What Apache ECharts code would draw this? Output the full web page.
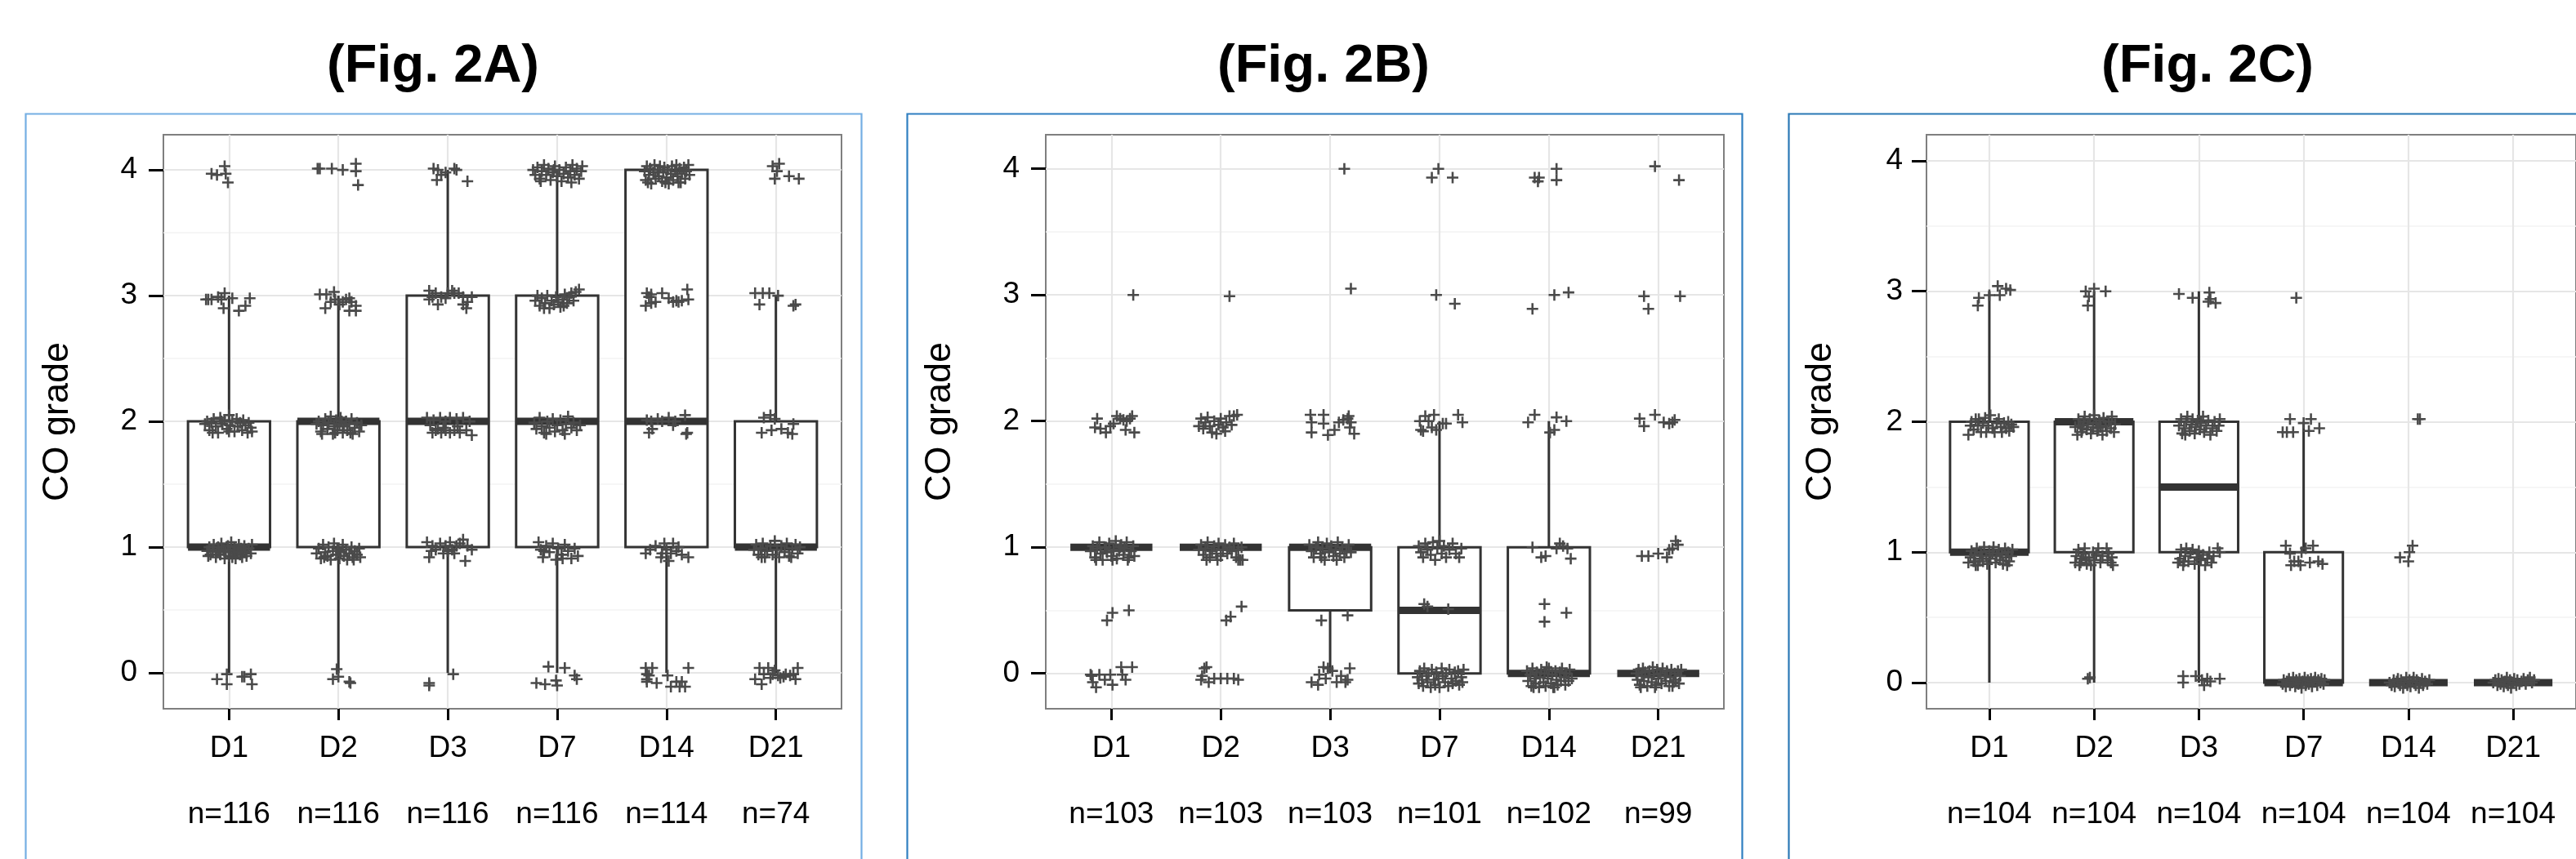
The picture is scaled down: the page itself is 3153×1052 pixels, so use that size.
<!DOCTYPE html>
<html><head><meta charset="utf-8">
<script src="https://cdn.jsdelivr.net/npm/echarts@6/dist/echarts.min.js"></script>
<style>html,body{margin:0;padding:0;background:#fff}#c{width:3153px;height:1052px}</style>
</head><body><div id="c"></div>
<script>
// ---------------- DATA ----------------
const categories = ['D1', 'D2', 'D3', 'D7', 'D14', 'D21'];
const yTicks = [0, 1, 2, 3, 4];
const yMinorTicks = [0.5, 1.5, 2.5, 3.5];
const titles = ['(Fig. 2A)', '(Fig. 2B)', '(Fig. 2C)'];
const yName = 'CO grade';
const nA = [116, 116, 116, 116, 114, 74];
const nB = [103, 103, 103, 101, 102, 99];
const nC = [104, 104, 104, 104, 104, 104];
// box stats: [category index, lower whisker, Q1, median, Q3, upper whisker]
const boxA = [[0,0,1,1,2,3],[1,0,1,2,2,3],[2,0,1,2,3,4],[3,0,1,2,3,4],[4,0,1,2,4,4],[5,0,1,1,2,3]];
const boxB = [[0,1,1,1,1,1],[1,1,1,1,1,1],[2,0,0.5,1,1,1],[3,0,0,0.5,1,2],[4,0,0,0,1,2],[5,0,0,0,0,0]];
const boxC = [[0,0,1,1,2,3],[1,0,1,2,2,3],[2,0,1,1.5,2,3],[3,0,0,0,1,2],[4,0,0,0,0,0],[5,0,0,0,0,0]];
const ptsA = [
// D1
[-0.16,3.97],[-0.11,3.96],[-0.04,4.03],[-0.03,3.97],[-0.01,3.9],
[-0.21,2.97],[-0.19,2.97],[-0.16,2.97],[-0.10,2.99],[-0.07,2.97],[-0.05,2.9],[-0.04,3.02],[0.03,2.98],[0.09,2.88],[0.15,2.92],[0.19,2.98],
[-0.22,1.98],[-0.2,2.0],[-0.18,1.93],[-0.16,1.99],[-0.14,2.02],[-0.12,1.96],[-0.1,1.91],[-0.08,2.03],[-0.06,1.98],[-0.04,2.01],[-0.02,1.94],[0,2.05],[0.01,1.97],[0.03,2.0],[0.05,1.92],[0.07,2.02],[0.08,1.96],[0.1,1.99],[0.12,1.93],[0.13,2.01],[0.15,1.97],[0.17,1.91],[0.18,1.99],[0.2,1.95],[0.21,1.92],[-0.15,1.91],[0.0,1.92],[-0.07,2.0],
[-0.2,0.97],[-0.18,1.0],[-0.17,0.94],[-0.15,0.98],[-0.14,1.02],[-0.12,0.92],[-0.11,0.96],[-0.1,1.0],[-0.08,0.94],[-0.07,1.03],[-0.05,0.98],[-0.04,0.91],[-0.03,0.96],[-0.01,1.01],[0,0.93],[0.01,0.98],[0.02,1.04],[0.04,0.95],[0.05,1.0],[0.06,0.91],[0.07,0.97],[0.09,1.02],[0.1,0.94],[0.11,0.99],[0.12,0.92],[0.14,1.01],[0.15,0.96],[0.16,0.93],[0.18,0.99],[0.2,0.95],[0.21,1.02],[-0.19,0.93],[-0.09,0.97],[0.03,0.92],[0.13,0.97],[0.08,0.96],
[-0.11,-0.05],[-0.02,-0.01],[-0.02,-0.09],[0.12,-0.03],[0.14,-0.03],[0.2,-0.01],[0.21,-0.09],
// D2
[0.81,4.01],[0.83,4.01],[0.94,4.01],[1.04,4.0],[1.16,4.05],[1.16,3.99],[1.18,3.88],
[0.83,3.01],[0.89,3.01],[0.96,3.03],[0.88,2.9],[0.93,2.95],[0.97,2.97],[1.01,2.93],[1.04,2.95],[1.07,2.97],[1.1,2.98],[1.12,2.95],[1.16,2.92],[1.16,2.88],[1.1,2.88],
[0.8,1.98],[0.82,2.0],[0.84,1.92],[0.86,1.97],[0.88,2.02],[0.9,1.94],[0.91,1.99],[0.93,2.04],[0.95,1.9],[0.96,1.96],[0.98,2.01],[0.99,1.93],[1.01,1.98],[1.02,2.03],[1.04,1.91],[1.05,1.96],[1.07,2.0],[1.08,1.93],[1.1,1.98],[1.12,2.02],[1.13,1.9],[1.15,1.95],[1.17,1.99],[1.19,1.92],[1.21,1.97],[0.85,1.9],[0.97,1.91],[1.11,1.91],[1.03,2.0],
[0.8,0.95],[0.82,0.99],[0.84,0.91],[0.86,1.02],[0.88,0.96],[0.9,0.93],[0.91,1.0],[0.93,0.9],[0.95,0.97],[0.96,1.03],[0.98,0.94],[0.99,0.99],[1.01,0.91],[1.02,0.96],[1.04,1.02],[1.05,0.93],[1.07,0.98],[1.08,0.9],[1.1,0.95],[1.12,1.0],[1.13,0.92],[1.15,0.97],[1.17,0.94],[1.19,0.99],[1.2,0.92],[0.87,0.92],[1.0,0.97],[1.14,0.9],
[0.95,-0.05],[0.985,0.03],[1.0,-0.03],[1.1,-0.07],[1.11,-0.08],
// D3
[1.87,4.01],[1.9,3.92],[1.94,3.96],[1.98,3.98],[2.06,4.01],[2.08,4.0],[2.18,3.91],[1.91,4.0],
[1.83,3.04],[1.83,2.97],[1.89,3.02],[1.91,2.93],[1.94,2.99],[2.0,3.02],[2.04,3.04],[2.06,3.02],[2.1,3.02],[2.14,2.99],[2.14,2.93],[2.17,2.9],[2.22,2.99],[2.18,2.95],[1.86,2.99],[1.98,2.98],
[1.81,2.03],[1.87,2.01],[1.93,2.03],[1.98,2.0],[2.02,2.03],[2.08,2.02],[2.14,2.03],[2.2,2.0],[1.86,1.91],[1.89,1.93],[1.94,1.91],[1.98,1.93],[2.02,1.91],[2.06,1.93],[2.11,1.91],[2.17,1.93],[2.22,1.89],[1.91,1.94],[1.96,1.95],[2.09,1.96],[1.84,1.97],
[1.81,1.04],[1.83,0.92],[1.86,1.01],[1.89,0.98],[1.93,1.03],[1.96,0.95],[1.98,1.01],[2.02,1.04],[2.04,0.98],[2.08,1.01],[2.11,1.03],[2.14,1.06],[2.16,0.89],[2.18,1.01],[2.22,0.98],[1.85,0.97],[2.0,0.97],[2.06,0.95],
[1.83,-0.1],[1.83,-0.08],[2.05,-0.01],
// D7
[2.78,4.0],[2.8,3.96],[2.82,4.02],[2.84,3.93],[2.86,3.99],[2.88,4.04],[2.9,3.96],[2.92,4.01],[2.94,3.92],[2.96,3.98],[2.98,4.03],[3.0,3.95],[3.02,4.0],[3.04,3.91],[3.06,3.97],[3.08,4.02],[3.1,3.94],[3.12,3.99],[3.14,4.04],[3.16,3.96],[3.18,4.01],[3.2,3.93],[3.22,3.99],[3.23,4.03],[2.85,3.91],[3.13,3.9],[2.97,4.0],
[2.8,2.96],[2.82,3.0],[2.84,2.92],[2.86,2.98],[2.89,2.94],[2.91,3.0],[2.93,2.9],[2.95,2.96],[2.97,2.93],[2.99,2.99],[3.01,2.95],[3.03,2.91],[3.05,2.97],[3.07,3.01],[3.09,2.94],[3.11,2.99],[3.13,3.02],[3.15,2.96],[3.17,3.03],[3.2,3.05],[2.88,2.9],[3.06,2.92],
[2.79,1.99],[2.81,1.94],[2.84,2.03],[2.86,1.96],[2.88,1.91],[2.91,2.0],[2.93,1.95],[2.96,2.02],[2.98,1.92],[3.0,1.97],[3.03,2.01],[3.05,1.93],[3.08,1.98],[3.1,2.04],[3.13,1.95],[3.15,1.99],[3.18,1.93],[3.21,1.97],[2.9,1.9],[3.07,1.9],
[2.83,1.04],[2.85,0.98],[2.87,0.92],[2.9,1.01],[2.93,0.96],[2.96,1.03],[2.99,0.9],[3.01,0.99],[3.04,0.94],[3.07,1.02],[3.1,0.97],[3.13,0.91],[3.16,0.99],[3.19,0.93],[2.88,0.97],[3.05,0.91],
[2.81,-0.08],[2.89,-0.09],[2.92,0.05],[2.99,-0.06],[3.0,-0.1],[3.07,0.04],[3.16,-0.02],[3.18,-0.05],
// D14
[3.8,3.99],[3.81,3.92],[3.82,4.03],[3.84,3.96],[3.85,4.01],[3.86,3.89],[3.88,3.98],[3.89,4.04],[3.9,3.93],[3.92,4.0],[3.93,3.95],[3.94,4.03],[3.96,3.91],[3.97,3.98],[3.98,4.02],[4.0,3.94],[4.01,4.0],[4.02,3.89],[4.04,3.97],[4.05,4.03],[4.06,3.92],[4.08,3.99],[4.09,4.04],[4.1,3.95],[4.12,4.01],[4.13,3.9],[4.14,3.97],[4.16,4.02],[4.17,3.93],[4.18,3.99],[4.2,4.04],[4.21,3.96],[3.83,3.9],[3.99,3.9],[4.11,3.9],
[3.82,3.02],[3.84,2.99],[3.86,3.01],[3.9,2.95],[3.81,2.92],[3.96,3.02],[4.02,2.98],[4.06,2.95],[4.09,2.96],[4.14,2.96],[4.19,3.05],[4.2,2.97],[4.11,2.95],[3.86,2.94],
[3.82,2.01],[3.86,2.0],[3.92,2.02],[3.96,2.0],[4.02,2.03],[4.08,2.0],[4.17,2.05],[3.84,1.91],[3.87,1.94],[4.06,1.97],[4.18,1.9],[4.19,1.91],
[3.81,0.95],[3.85,0.98],[3.9,1.01],[3.95,0.92],[3.98,1.03],[4.0,0.98],[4.02,0.89],[4.06,1.03],[4.09,0.97],[4.11,1.0],[4.14,0.94],[4.2,0.92],[3.96,0.95],[4.04,0.95],
[3.81,0.04],[3.82,-0.01],[3.82,-0.07],[3.84,-0.02],[3.87,0.04],[3.91,-0.08],[4.01,-0.02],[4.04,-0.11],[4.09,-0.07],[4.14,-0.07],[4.17,-0.11],[4.2,0.04],[3.82,-0.05],[4.12,-0.11],
// D21
[4.97,4.03],[4.99,3.93],[5.03,4.05],[5.12,3.95],[5.21,3.93],[5.01,3.99],
[4.81,3.02],[4.85,2.93],[4.88,3.02],[4.94,3.02],[5.02,3.0],[5.16,2.92],[5.18,2.93],
[4.89,2.03],[4.95,2.05],[4.99,2.02],[4.87,1.91],[4.96,1.93],[5.05,1.94],[5.11,1.91],[5.16,1.98],[5.15,1.9],
[4.8,0.98],[4.82,1.02],[4.84,0.94],[4.86,0.99],[4.88,1.03],[4.9,0.92],[4.92,0.97],[4.95,1.01],[4.97,0.94],[4.99,1.05],[5.01,0.98],[5.03,0.92],[5.05,1.01],[5.08,0.96],[5.1,1.03],[5.12,0.93],[5.15,0.99],[5.18,1.02],[5.2,0.95],[5.22,1.0],[4.87,0.92],[5.14,0.92],
[4.81,-0.05],[4.85,0.04],[4.87,-0.09],[4.89,-0.01],[4.93,0.04],[4.97,-0.01],[4.99,0.02],[5.02,-0.02],[5.04,-0.04],[5.07,-0.03],[5.09,-0.01],[5.13,-0.02],[5.18,-0.05],[5.2,0.04],[5.16,-0.01],[4.95,-0.04]
];
const ptsB = [
// D1
[0.2,3.0],
[-0.13,2.02],[-0.1,1.94],[-0.05,1.91],[-0.01,1.96],[0.02,1.98],[0.05,2.04],[0.08,2.02],[0.11,2.01],[0.14,2.0],[0.17,2.02],[0.19,2.04],[0.21,1.91],[0.13,1.93],[-0.15,1.95],
[-0.19,0.97],[-0.17,1.01],[-0.15,0.92],[-0.13,0.99],[-0.11,1.04],[-0.1,0.95],[-0.08,0.9],[-0.06,1.0],[-0.04,0.96],[-0.02,1.03],[0,0.93],[0.02,0.98],[0.04,1.05],[0.05,0.91],[0.07,0.97],[0.09,1.02],[0.11,0.94],[0.12,0.99],[0.14,1.04],[0.16,0.92],[0.18,0.97],[0.2,1.01],[0.21,0.93],[-0.14,0.9],[0.01,0.9],[0.15,0.9],[-0.05,1.0],[0.08,1.0],
[-0.04,0.42],[0.01,0.48],[0.16,0.5],
[-0.19,-0.01],[-0.17,-0.07],[-0.14,-0.11],[-0.11,-0.01],[-0.06,-0.05],[-0.01,-0.01],[0.01,-0.09],[0.09,0.05],[0.1,-0.01],[0.13,-0.05],[0.19,0.05],[-0.18,-0.02],
// D2
[1.08,2.99],
[0.8,1.96],[0.82,2.02],[0.84,1.94],[0.86,1.99],[0.88,2.03],[0.9,1.96],[0.92,1.91],[0.94,2.0],[0.96,1.9],[0.98,1.97],[1.0,2.02],[1.02,1.95],[1.05,1.99],[1.08,2.04],[1.12,2.04],[1.15,2.05],[1.04,1.92],[1.1,1.97],
[0.8,0.98],[0.82,1.02],[0.84,0.94],[0.86,0.99],[0.88,1.04],[0.9,0.92],[0.92,0.97],[0.94,1.01],[0.96,0.95],[0.98,1.03],[1.0,0.93],[1.02,0.98],[1.04,1.02],[1.06,0.95],[1.08,1.0],[1.1,0.97],[1.12,1.03],[1.14,0.92],[1.16,0.98],[1.18,0.9],[1.19,1.0],[0.87,0.9],[0.97,0.9],[1.16,0.9],[1.2,0.9],
[1.05,0.42],[1.09,0.45],[1.19,0.53],
[0.82,-0.05],[0.85,0.04],[0.87,0.05],[0.89,-0.07],[0.94,-0.04],[1.0,-0.04],[1.06,-0.04],[1.12,-0.04],[1.16,-0.05],[0.83,-0.02],
// D3
[2.13,4.0],
[2.19,3.05],
[1.82,2.05],[1.83,1.99],[1.83,1.91],[1.94,2.05],[1.94,1.98],[1.98,1.89],[2.04,1.93],[2.08,1.99],[2.12,2.01],[2.16,2.02],[2.18,1.95],[2.19,1.99],[2.22,1.9],[2.17,2.04],
[1.81,1.02],[1.83,0.97],[1.85,0.92],[1.87,1.0],[1.89,1.04],[1.91,0.95],[1.93,0.99],[1.95,0.9],[1.97,1.03],[1.99,0.96],[2.01,1.01],[2.03,0.93],[2.05,0.98],[2.07,1.04],[2.09,0.95],[2.11,1.0],[2.13,0.92],[2.15,0.97],[2.17,1.02],[2.19,0.96],[1.92,0.92],[2.06,0.9],
[1.92,0.42],[2.16,0.46],
[1.83,-0.07],[1.89,-0.09],[1.9,-0.01],[1.94,0.05],[1.96,-0.04],[1.98,0.04],[2.02,0.02],[2.06,-0.07],[2.1,-0.02],[2.14,-0.07],[2.18,0.04],[2.16,-0.05],
// D7
[2.93,3.93],[2.99,4.0],[3.12,3.93],
[2.97,3.0],[3.14,2.93],
[2.82,2.0],[2.83,1.93],[2.87,2.04],[2.9,2.0],[2.93,1.95],[2.95,2.05],[2.97,1.93],[3.03,1.98],[3.06,1.98],[3.17,2.05],[3.21,1.99],[2.85,1.92],
[2.81,1.01],[2.83,0.96],[2.85,0.92],[2.87,1.03],[2.89,0.98],[2.92,0.94],[2.94,1.04],[2.96,0.9],[2.98,0.99],[3.0,1.05],[3.02,0.95],[3.04,1.01],[3.06,0.92],[3.09,0.98],[3.12,1.03],[3.15,0.95],[3.18,0.92],[3.2,0.99],
[2.86,0.55],[2.89,0.53],[3.08,0.51],
[2.8,-0.03],[2.81,-0.08],[2.82,0.02],[2.84,-0.05],[2.85,-0.1],[2.86,0.04],[2.88,-0.02],[2.89,-0.07],[2.9,0.0],[2.92,-0.11],[2.93,0.03],[2.95,-0.05],[2.96,-0.09],[2.97,0.01],[2.99,-0.04],[3.0,-0.11],[3.02,0.04],[3.03,-0.02],[3.05,-0.07],[3.06,0.0],[3.08,-0.1],[3.09,0.03],[3.11,-0.04],[3.12,-0.08],[3.14,0.01],[3.15,-0.06],[3.17,0.02],[3.18,-0.09],[3.2,-0.03],[3.22,0.03],[3.21,-0.07],
// D14
[3.87,3.93],[3.9,3.9],[3.91,3.93],[4.07,4.0],[4.07,3.91],
[3.85,2.89],[4.05,3.0],[4.18,3.02],
[3.81,1.99],[3.87,2.05],[4.01,1.91],[4.07,2.03],[4.16,2.0],[4.05,1.93],
[3.85,1.0],[3.93,0.92],[3.97,0.93],[4.07,0.99],[4.1,1.03],[4.13,1.01],[4.17,0.99],[4.2,0.91],
[3.96,0.55],[3.96,0.41],[4.16,0.48],
[3.8,0.02],[3.81,-0.06],[3.83,-0.01],[3.84,-0.1],[3.85,0.04],[3.87,-0.04],[3.88,-0.08],[3.89,0.01],[3.91,-0.11],[3.92,-0.03],[3.93,0.03],[3.95,-0.07],[3.96,0.0],[3.97,-0.1],[3.99,-0.04],[4.0,0.04],[4.02,-0.08],[4.03,-0.01],[4.04,-0.11],[4.06,0.02],[4.07,-0.05],[4.08,-0.09],[4.1,0.01],[4.11,-0.06],[4.12,0.04],[4.14,-0.03],[4.15,-0.09],[4.16,0.0],[4.18,-0.06],[4.19,0.03],[4.21,-0.04],[3.86,-0.11],[4.05,-0.11],[3.98,0.05],
// D21
[4.97,4.02],[5.19,3.91],
[4.87,2.99],[4.91,2.89],[5.2,2.99],
[4.83,2.02],[4.87,1.96],[4.97,2.05],[5.05,1.99],[5.1,1.98],[5.13,1.99],[5.15,2.01],
[4.85,0.93],[4.91,0.93],[5.0,0.95],[5.08,0.92],[5.1,0.98],[5.13,0.99],[5.16,1.05],[5.18,1.02],
[4.8,0.0],[4.81,-0.05],[4.82,0.03],[4.83,-0.09],[4.85,-0.02],[4.86,0.04],[4.87,-0.06],[4.88,0.01],[4.9,-0.1],[4.91,-0.03],[4.92,0.02],[4.94,-0.07],[4.95,0.05],[4.96,-0.01],[4.98,-0.09],[4.99,0.03],[5.0,-0.04],[5.02,0.0],[5.03,-0.08],[5.04,0.04],[5.06,-0.02],[5.07,-0.06],[5.08,0.02],[5.1,-0.1],[5.11,-0.03],[5.12,0.03],[5.14,-0.07],[5.15,0.0],[5.16,-0.05],[5.18,0.02],[5.19,-0.08],[5.2,-0.02],[5.21,0.03],[4.84,-0.11],[4.97,-0.11],[5.13,-0.1]
];
const ptsC = [
// D1
[-0.11,2.89],[-0.1,2.95],[0.0,2.97],[0.08,3.04],[0.1,2.97],[0.16,3.02],[0.2,3.01],
[-0.2,1.9],[-0.18,1.97],[-0.17,2.0],[-0.15,1.94],[-0.13,2.02],[-0.11,1.97],[-0.1,2.02],[-0.08,1.92],[-0.06,1.99],[-0.04,2.03],[-0.03,1.92],[-0.01,1.97],[0.01,2.05],[0.03,1.95],[0.05,1.92],[0.07,1.99],[0.09,2.02],[0.11,1.96],[0.12,1.92],[0.14,1.99],[0.16,1.95],[0.18,2.0],[0.19,1.93],[0.21,1.98],[0.23,1.96],
[-0.2,0.92],[-0.18,0.96],[-0.17,1.01],[-0.15,0.93],[-0.14,0.98],[-0.12,1.03],[-0.11,0.9],[-0.09,0.95],[-0.08,1.0],[-0.06,0.93],[-0.05,1.04],[-0.03,0.97],[-0.02,0.91],[0.0,1.01],[0.01,0.95],[0.03,0.99],[0.04,1.04],[0.06,0.92],[0.07,0.97],[0.09,1.02],[0.1,0.94],[0.12,0.99],[0.13,0.91],[0.15,1.03],[0.16,0.96],[0.18,1.0],[0.19,0.93],[0.21,0.97],[0.22,1.02],[-0.13,0.9],[0.17,0.9],[-0.07,0.97],
// D2
[0.92,3.0],[0.95,2.96],[0.94,2.89],[1.0,3.02],[1.11,3.0],
[0.82,1.96],[0.84,1.9],[0.85,2.02],[0.87,1.97],[0.88,1.92],[0.9,2.0],[0.91,2.04],[0.93,1.94],[0.94,1.98],[0.96,2.02],[0.97,1.91],[0.99,1.96],[1.0,2.05],[1.02,1.99],[1.03,1.93],[1.05,2.01],[1.06,1.96],[1.08,1.9],[1.09,2.03],[1.11,1.97],[1.12,1.93],[1.14,2.0],[1.16,1.95],[1.17,2.04],[1.19,1.92],[1.2,1.98],[0.89,1.95],[1.04,1.95],
[0.82,0.92],[0.83,0.97],[0.85,1.02],[0.86,0.9],[0.88,0.95],[0.9,0.99],[0.91,1.03],[0.93,0.91],[0.95,0.96],[0.97,0.9],[0.99,1.0],[1.0,0.94],[1.02,0.98],[1.04,1.03],[1.06,0.92],[1.08,0.97],[1.12,1.03],[1.13,0.94],[1.14,0.99],[1.16,0.92],[1.17,0.96],[1.18,0.9],[0.87,0.92],[0.92,0.94],
[0.94,0.03],[0.96,0.04],
// D3
[1.81,2.98],[1.94,2.95],[2.1,2.99],[2.11,2.94],[2.16,2.91],[2.09,2.92],
[1.81,1.97],[1.83,2.02],[1.84,1.91],[1.86,1.95],[1.88,2.0],[1.89,2.04],[1.91,1.93],[1.93,1.98],[1.94,2.02],[1.96,1.91],[1.97,1.96],[1.99,2.01],[2.01,1.94],[2.02,1.99],[2.04,2.04],[2.05,1.92],[2.07,1.97],[2.09,2.01],[2.11,1.9],[2.13,1.95],[2.15,2.0],[2.17,1.93],[2.19,1.97],[2.2,2.02],[1.87,1.9],
[1.8,0.92],[1.82,0.95],[1.83,1.02],[1.85,0.9],[1.87,0.97],[1.88,1.03],[1.9,0.93],[1.92,0.99],[1.94,1.02],[1.96,0.91],[1.98,0.96],[2.0,1.01],[2.02,0.94],[2.04,0.98],[2.06,0.9],[2.08,0.95],[2.1,1.0],[2.12,0.92],[2.14,0.97],[2.18,1.03],[2.2,1.0],[1.86,0.93],
[1.85,0.05],[1.85,0.0],[1.97,0.05],[2.03,0.02],[2.05,-0.02],[2.08,0.03],[2.11,0.01],[2.2,0.03],
// D7
[2.93,2.95],
[2.8,1.92],[2.84,1.92],[2.87,2.02],[2.9,1.92],[3.0,1.99],[3.05,1.93],[3.07,2.02],[3.15,1.95],
[2.83,1.05],[2.87,0.99],[2.91,0.93],[2.95,0.93],[2.98,1.0],[3.02,1.03],[3.06,0.92],[3.09,1.05],[3.14,0.93],[3.18,0.91],[2.97,0.9],[2.88,0.9],
[2.8,-0.01],[2.81,0.02],[2.83,-0.03],[2.84,0.01],[2.86,0.03],[2.87,-0.02],[2.89,0.0],[2.9,0.04],[2.92,-0.03],[2.93,0.02],[2.95,-0.01],[2.96,0.03],[2.98,-0.04],[2.99,0.01],[3.01,0.04],[3.02,-0.02],[3.04,0.02],[3.05,-0.01],[3.07,0.03],[3.08,-0.03],[3.1,0.01],[3.11,0.04],[3.13,-0.02],[3.14,0.02],[3.16,0.0],[3.17,0.03],[3.19,-0.01],[3.2,0.02],
// D14
[4.09,2.02],[4.11,2.02],
[3.92,0.96],[4.0,0.93],[4.01,1.0],[4.04,1.05],
[3.82,0.0],[3.84,-0.02],[3.86,0.02],[3.87,-0.03],[3.89,0.01],[3.9,0.03],[3.92,-0.02],[3.93,0.02],[3.95,-0.04],[3.96,0.0],[3.98,0.04],[3.99,-0.02],[4.01,0.02],[4.02,-0.03],[4.04,0.01],[4.05,0.04],[4.07,-0.02],[4.08,0.02],[4.1,-0.04],[4.11,0.0],[4.13,0.03],[4.14,-0.02],[4.16,0.01],[4.18,-0.01],[4.2,0.02],
// D21
[4.81,0.0],[4.83,0.02],[4.85,-0.02],[4.86,0.03],[4.88,-0.01],[4.89,0.02],[4.91,-0.03],[4.92,0.01],[4.94,0.04],[4.95,-0.02],[4.97,0.02],[4.98,-0.04],[5.0,0.0],[5.01,0.03],[5.03,-0.02],[5.04,0.02],[5.06,-0.01],[5.08,0.01],[5.1,0.03],[5.12,-0.01],[5.14,0.02],[5.16,0.04],[5.18,0.0],[5.2,0.02]
];

// ---------------- LAYOUT / STYLE ----------------
const FONT = '"Liberation Sans", Arial, Helvetica, sans-serif';
const BOX_COLOR = '#333333';
const PT_COLOR = '#4a4a4a';
const BOX_WIDTH = 0.75;
const PLUS = 'path://M5.3,0H7.7V5.3H13V7.7H7.7V13H5.3V7.7H0V5.3H5.3Z';
const panels = [
  {n: nA, box: boxA, pts: ptsA, title: titles[0], left: 200, width: 830, yMin: -0.285, yMax: 4.28, titleX: 530, frameX: 29, frameW: 1023, frameColor: '#74aee3', labelMargin: 32},
  {n: nB, box: boxB, pts: ptsB, title: titles[1], left: 1280, width: 830, yMin: -0.28, yMax: 4.27, titleX: 1620, frameX: 1108, frameW: 1022, frameColor: '#2f7fc1', labelMargin: 32},
  {n: nC, box: boxC, pts: ptsC, title: titles[2], left: 2358, width: 825, yMin: -0.2, yMax: 4.2, titleX: 2702, frameX: 2187, frameW: 1100, frameColor: '#2a78b5', labelMargin: 29}
];
const GRID_TOP = 165, GRID_H = 703;

function renderBox(params, api) {
  const x = api.value(0), lo = api.value(1), q1 = api.value(2), med = api.value(3), q3 = api.value(4), hi = api.value(5);
  const hw = BOX_WIDTH / 2;
  const c = [];
  const st = {stroke: BOX_COLOR, lineWidth: 3, fill: null};
  const pHi = api.coord([x, hi]), pQ3 = api.coord([x, q3]), pQ1 = api.coord([x, q1]), pLo = api.coord([x, lo]);
  if (hi > q3) c.push({type: 'line', shape: {x1: pQ3[0], y1: pQ3[1], x2: pHi[0], y2: pHi[1]}, style: st});
  if (lo < q1) c.push({type: 'line', shape: {x1: pQ1[0], y1: pQ1[1], x2: pLo[0], y2: pLo[1]}, style: st});
  const tl = api.coord([x - hw, q3]), br = api.coord([x + hw, q1]);
  if (q3 > q1) c.push({type: 'rect', shape: {x: tl[0], y: tl[1], width: br[0] - tl[0], height: br[1] - tl[1]}, style: {stroke: BOX_COLOR, lineWidth: 3, fill: '#ffffff'}});
  const mL = api.coord([x - hw, med]), mR = api.coord([x + hw, med]);
  c.push({type: 'line', shape: {x1: mL[0], y1: mL[1], x2: mR[0], y2: mR[1]}, style: {stroke: BOX_COLOR, lineWidth: 9, lineCap: 'butt'}});
  return {type: 'group', children: c};
}

const option = {animation: false, backgroundColor: '#ffffff', title: [], grid: [], xAxis: [], yAxis: [], series: [], graphic: []};
panels.forEach((p, i) => {
  option.title.push({text: p.title, left: p.titleX, top: 50, textAlign: 'center', padding: 0,
    textStyle: {fontFamily: FONT, fontSize: 65, fontWeight: 'bold', color: '#000'}});
  option.graphic.push({type: 'rect', left: p.frameX, top: 137, shape: {width: p.frameW, height: 1000}, z: -10,
    style: {fill: null, stroke: p.frameColor, lineWidth: 2.2}});
  option.grid.push({left: p.left, top: GRID_TOP, width: p.width, height: GRID_H, show: true, backgroundColor: '#fff', borderColor: '#7f7f7f', borderWidth: 2});
  option.xAxis.push({type: 'value', gridIndex: i, min: -0.6, max: 5.6, position: 'bottom',
    axisLine: {show: false, onZero: false},
    axisTick: {show: true, length: 14, customValues: [0,1,2,3,4,5], lineStyle: {color: '#000', width: 3}},
    axisLabel: {show: true, customValues: [0,1,2,3,4,5], margin: 29, lineHeight: 40.5, fontFamily: FONT, fontSize: 37, color: '#000',
      formatter: v => categories[Math.round(v)] + '\n\nn=' + p.n[Math.round(v)]},
    splitLine: {show: true, lineStyle: {color: '#e6e6e6', width: 2.2}}});
  option.yAxis.push({type: 'value', gridIndex: i, min: p.yMin, max: p.yMax, position: 'left',
    name: yName, nameLocation: 'middle', nameGap: 107, nameTextStyle: {fontFamily: FONT, fontSize: 45, color: '#000'},
    axisLine: {show: false, onZero: false},
    axisTick: {show: true, length: 18, customValues: yTicks, lineStyle: {color: '#000', width: 3}},
    axisLabel: {show: true, customValues: yTicks, margin: p.labelMargin, fontFamily: FONT, fontSize: 37, color: '#000', formatter: v => String(v)},
    splitLine: {show: true, lineStyle: {color: '#e6e6e6', width: 2.2}}});
  option.yAxis.push({type: 'value', gridIndex: i, min: p.yMin, max: p.yMax, position: 'left',
    axisLine: {show: false, onZero: false}, axisTick: {show: false, customValues: yMinorTicks}, axisLabel: {show: false, customValues: yMinorTicks},
    splitLine: {show: true, lineStyle: {color: '#f3f3f3', width: 1.6}}});
  option.series.push({type: 'custom', xAxisIndex: i, yAxisIndex: 2 * i, renderItem: renderBox, data: p.box,
    encode: {x: 0, y: [1, 2, 3, 4, 5]}, z: 2, silent: true, clip: false});
  option.series.push({type: 'scatter', xAxisIndex: i, yAxisIndex: 2 * i, data: p.pts, symbol: PLUS, symbolSize: 14,
    itemStyle: {color: PT_COLOR, opacity: 1}, z: 3, silent: true});
});

const chart = echarts.init(document.getElementById('c'), null, {renderer: 'canvas'});
chart.setOption(option);
</script>
</body></html>
